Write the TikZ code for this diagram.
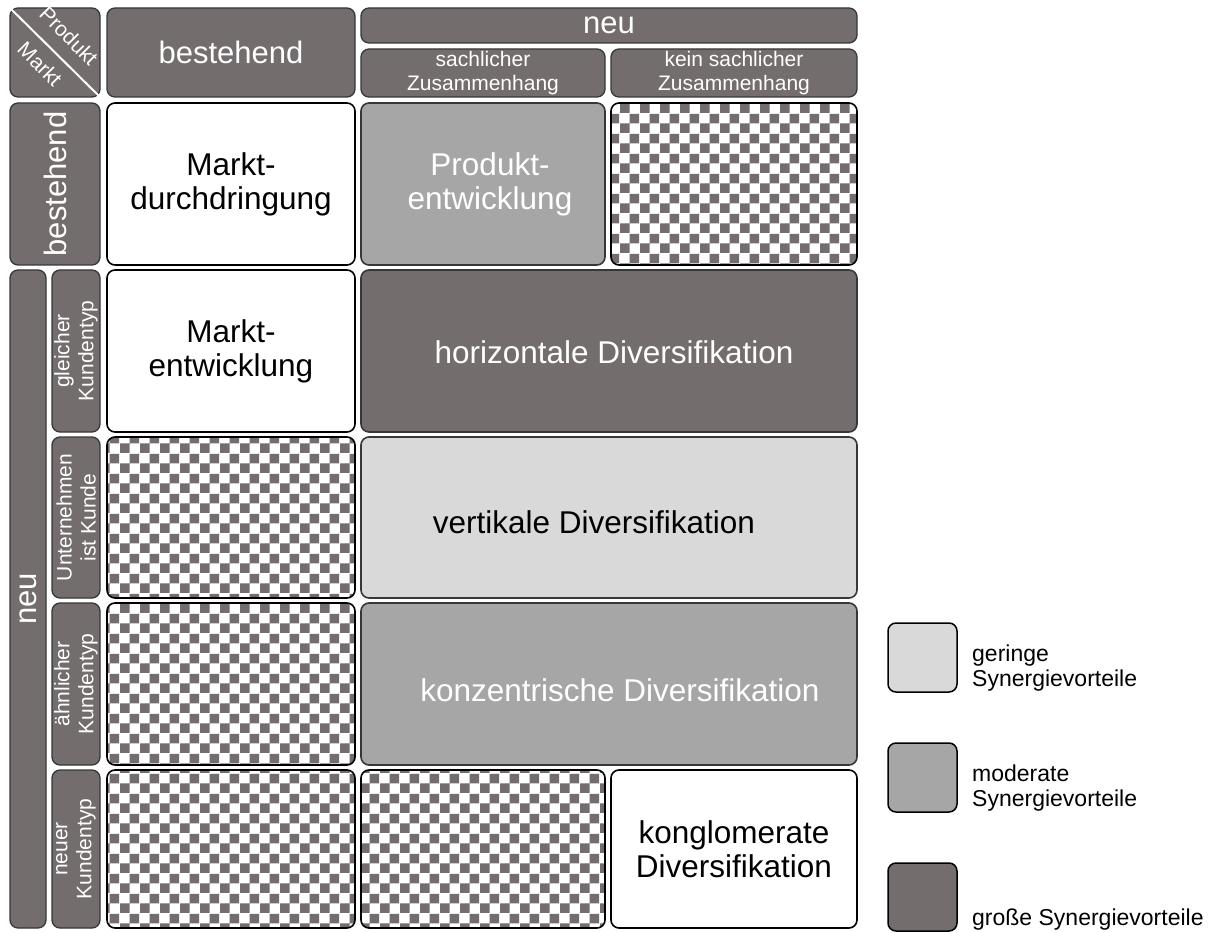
\documentclass[tikz,border=0pt]{standalone}
\usepackage{fontspec}
\setmainfont{Liberation Sans}
\usetikzlibrary{patterns}

\definecolor{dk}{RGB}{115,109,109}
\definecolor{md}{RGB}{166,166,166}
\definecolor{lt}{RGB}{217,217,217}
\definecolor{edge}{RGB}{55,55,55}

% checkerboard with 10pt squares
\pgfdeclarepatternformonly{checker}{\pgfpointorigin}{\pgfpoint{20pt}{20pt}}{\pgfpoint{20pt}{20pt}}{%
  \pgfpathrectangle{\pgfpointorigin}{\pgfpoint{10pt}{10pt}}%
  \pgfpathrectangle{\pgfpoint{10pt}{10pt}}{\pgfpoint{10pt}{10pt}}%
  \pgfusepath{fill}}

\newcommand\bigfont{\fontsize{31.5}{34}\selectfont}
\newcommand\midfont{\fontsize{31}{33}\selectfont}
\newcommand\smallfont{\fontsize{21}{24}\selectfont}
\newcommand\legfont{\fontsize{23}{25}\selectfont}
\newcommand\cornerfont{\fontsize{21}{22}\selectfont}

% box from (x1,y1) to (x2,y2): #1 style, #2 name, #3..#6 corners, #7 text
\newcommand\cellbox[7][]{%
  \node[#1, minimum width={#5-#3}, minimum height={#6-#4}] (#2)
    at ({(#3+#5)/2},{(#4+#6)/2}) {#7};}
% same, with text running upwards
\newcommand\vcellbox[7][]{%
  \node[#1, rotate=90, minimum width={#6-#4}, minimum height={#5-#3}] (#2)
    at ({(#3+#5)/2},{(#4+#6)/2}) {#7};}

\tikzset{
  basebox/.style={rounded corners=8pt, inner sep=0pt, align=center, line width=1.6pt},
  headbox/.style={basebox, fill=dk, draw=edge, line width=1.3pt, text=white},
  whitecell/.style={basebox, fill=white, draw=black, text=black},
  darkcell/.style={basebox, fill=dk, draw=edge, text=white},
  midcell/.style={basebox, fill=md, draw=edge, text=white},
  lightcell/.style={basebox, fill=lt, draw=edge, text=black},
  checkcell/.style={basebox, draw=black, preaction={fill=white}, pattern=checker, pattern color=dk},
  legendbox/.style={basebox, draw=black, line width=1.5pt},
  legendtext/.style={anchor=west, align=left, inner sep=0pt, text=black, font=\legfont},
  cornertext/.style={text=white, font=\cornerfont, rotate=-45, inner sep=0pt},
}

\begin{document}
\begin{tikzpicture}[x=1pt, y=-1pt]
\useasboundingbox (0,0) rectangle (1224,933);

% ---- corner header
\cellbox[headbox]{corner}{10}{8}{100}{97}{}
\draw[white, line width=2pt] (corner.north west) -- (corner.south east);
\node[cornertext] (prod) at (69,36) {Produkt};
\node[cornertext] (markt) at (40,64) {Markt};

% ---- column headers
\cellbox[headbox, font=\midfont]{hbest}{107}{8}{355}{97}{bestehend}
\cellbox[headbox, font=\midfont]{hneu}{361}{8}{857}{43}{neu}
\cellbox[headbox, font=\smallfont]{hsach}{361}{49}{605}{97}{sachlicher\\Zusammenhang}
\cellbox[headbox, font=\smallfont]{hkein}{611}{49}{857}{97}{kein sachlicher\\Zusammenhang}

% ---- row headers
\vcellbox[headbox, font=\midfont]{rbest}{10}{103}{100}{265}{bestehend}
\vcellbox[headbox, font=\midfont]{rneu}{10}{270}{46}{928}{neu}
\vcellbox[headbox, font=\smallfont]{rgleich}{52}{270}{100}{432}{gleicher\\Kundentyp}
\vcellbox[headbox, font=\smallfont]{runter}{52}{437}{100}{598}{Unternehmen\\ist Kunde}
\vcellbox[headbox, font=\smallfont]{raehn}{52}{603}{100}{765}{ähnlicher\\Kundentyp}
\vcellbox[headbox, font=\smallfont]{rneuer}{52}{770}{100}{928}{neuer\\Kundentyp}

% ---- row: bestehender Markt
\cellbox[whitecell, font=\bigfont]{mdurch}{107}{103}{355}{265}{Markt-\\durchdringung}
\cellbox[midcell, font=\bigfont]{pentw}{361}{103}{605}{265}{\hspace*{14pt}Produkt-\\\hspace*{14pt}entwicklung}
\cellbox[checkcell]{c13}{611}{103}{857}{265}{}

% ---- row: gleicher Kundentyp
\cellbox[whitecell, font=\bigfont]{mentw}{107}{270}{355}{432}{Markt-\\entwicklung}
\cellbox[darkcell]{horiz}{361}{270}{857}{432}{}
\node[text=white, font=\bigfont] (horiz-t) at (614,352) {horizontale Diversifikation};

% ---- row: Unternehmen ist Kunde
\cellbox[checkcell]{c31}{107}{437}{355}{598}{}
\cellbox[lightcell]{vert}{361}{437}{857}{598}{}
\node[text=black, font=\bigfont] (vert-t) at (594,522) {vertikale Diversifikation};

% ---- row: ähnlicher Kundentyp
\cellbox[checkcell]{c41}{107}{603}{355}{765}{}
\cellbox[midcell]{konz}{361}{603}{857}{765}{}
\node[text=white, font=\bigfont] (konz-t) at (620,690) {konzentrische Diversifikation};

% ---- row: neuer Kundentyp
\cellbox[checkcell]{c51}{107}{770}{355}{928}{}
\cellbox[checkcell]{c52}{361}{770}{605}{928}{}
\cellbox[whitecell, font=\bigfont]{kongl}{611}{770}{857}{928}{konglomerate\\Diversifikation}

% ---- legend
\cellbox[legendbox, fill=lt]{lg1}{888}{623}{957}{692}{}
\node[legendtext] (lt1) at (972,668) {geringe\\Synergievorteile};
\cellbox[legendbox, fill=md]{lg2}{888}{743}{957}{812}{}
\node[legendtext] (lt2) at (972,788) {moderate\\Synergievorteile};
\cellbox[legendbox, fill=dk]{lg3}{888}{863}{957}{931}{}
\node[legendtext, anchor=base west] (lt3) at (972,925) {große Synergievorteile};
\end{tikzpicture}
\end{document}
